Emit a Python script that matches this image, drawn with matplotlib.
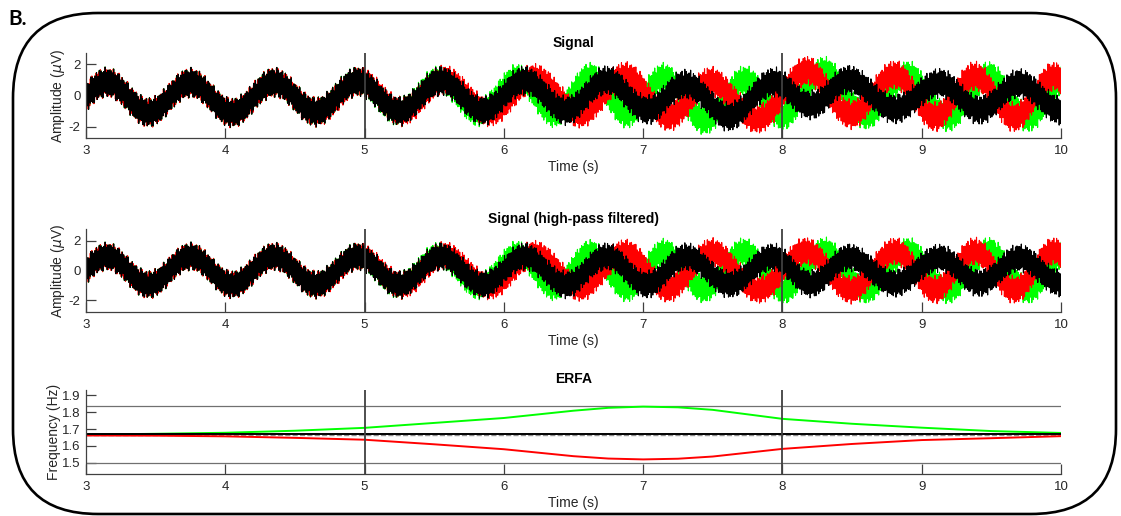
import numpy as np
import matplotlib
matplotlib.use("Agg")
import matplotlib.pyplot as plt
from matplotlib.patches import FancyBboxPatch

plt.rcParams["font.family"] = ["Liberation Sans", "DejaVu Sans"]
plt.rcParams["axes.unicode_minus"] = False

# ── values ────────────────────────────────────────────────────────────────────
# peak times (s) of the slow oscillation in each signal (same in both signal panels)
black_peaks = [2.55, 3.15, 3.75, 4.35, 4.95, 5.55, 6.15, 6.74, 7.31, 7.93, 8.48, 9.13, 9.70, 10.30]
green_peaks = [2.55, 3.15, 3.75, 4.35, 4.95, 5.54, 6.10, 6.62, 7.15, 7.72, 8.30, 8.90, 9.48, 10.05, 10.65]
red_peaks   = [2.55, 3.15, 3.75, 4.35, 4.96, 5.57, 6.22, 6.87, 7.49, 8.17, 8.81, 9.38, 9.95, 10.55]

# slow-wave amplitude (uV) at whole seconds
amp_t     = [3, 4, 5, 6, 7, 8, 9, 10]
black_amp = [0.95, 0.95, 0.95, 0.95, 0.95, 0.9, 0.85, 0.85]
green_amp = [0.95, 0.95, 0.95, 1.05, 1.2, 1.3, 1.3, 1.3]
red_amp   = [0.95, 0.95, 0.95, 1.05, 1.2, 1.3, 1.3, 1.3]

# low-frequency offset that the high-pass filter removes (top panel only)
drift_t   = [3, 4, 5, 6, 6.5, 7, 7.3, 7.6, 7.9, 8.2, 8.5, 9, 10]
drift_val = [-0.1, -0.15, -0.05, 0.0, 0.0, 0.05, -0.2, -0.45, -0.1, 0.3, 0.1, -0.05, -0.1]

# fast ripple riding on each signal: (Hz, uV)
ripple_freq = [97.3, 163.9, 241.7]
ripple_amp  = [0.72, 0.17, 0.10]

# ERFA frequency estimates (Hz)
erfa_t     = [3, 3.5, 4, 4.5, 5, 5.5, 6, 6.5, 6.75, 7, 7.25, 7.5, 8, 8.5, 9, 9.5, 10]
erfa_green = [1.667, 1.672, 1.678, 1.690, 1.707, 1.736, 1.765, 1.808, 1.825, 1.832, 1.828,
              1.813, 1.760, 1.731, 1.708, 1.688, 1.677]
erfa_red   = [1.662, 1.661, 1.657, 1.648, 1.637, 1.610, 1.581, 1.540, 1.526, 1.521, 1.525,
              1.538, 1.583, 1.612, 1.635, 1.646, 1.658]
erfa_black = [1.668] * len(erfa_t)
erfa_bounds = [1.5, 1.8333]
true_freq   = 1.6667

event_times = [5, 8]

fs = 3000
t = np.arange(3, 10 + 1 / fs, 1 / fs)


def make_signal(peaks, amp, shift, drift=False):
    phase = np.interp(t, peaks, np.arange(len(peaks)))
    a = np.interp(t, amp_t, amp)
    y = a * np.cos(2 * np.pi * phase)
    for k, (f, r) in enumerate(zip(ripple_freq, ripple_amp)):
        y += r * np.sin(2 * np.pi * f * t + shift * (k + 1))
    if drift:
        y += np.interp(t, drift_t, drift_val)
    return y


series = [("#00ff00", green_peaks, green_amp, 0.7),
          ("#ff0000", red_peaks, red_amp, 1.9),
          ("#000000", black_peaks, black_amp, 0.0)]

W, H = 1121, 516
fig = plt.figure(figsize=(W / 100, H / 100), dpi=100)

# rounded frame (display pixels, origin bottom-left) and panel letter
r = 85
x0, y0, x1, y1 = 13, 2, 1116, 503
frame = FancyBboxPatch((x0 + r, y0 + r), x1 - x0 - 2 * r, y1 - y0 - 2 * r,
                       boxstyle=f"round,pad={r}", fill=False,
                       edgecolor="black", linewidth=1.9, zorder=0)
frame.set_transform(None)
fig.patches.append(frame)
fig.text(8 / W, 1 - 19 / H, "B.", fontsize=15, fontweight="bold",
         family=["Lato", "DejaVu Sans"], va="center", ha="left")

left, width = 86 / W, (1061 - 86) / W
ax1 = fig.add_axes([left, 1 - 138 / H, width, 85 / H])
ax2 = fig.add_axes([left, 1 - 312 / H, width, 83 / H])
ax3 = fig.add_axes([left, 1 - 474 / H, width, 84 / H])

AX_COL = "#404040"
TXT_COL = "#262626"


def style(ax):
    for s in ["top", "right"]:
        ax.spines[s].set_visible(False)
    for s in ["left", "bottom"]:
        ax.spines[s].set_color(AX_COL)
        ax.spines[s].set_linewidth(0.9)
    ax.tick_params(direction="in", length=7.5, width=0.9, color=AX_COL,
                   labelcolor=TXT_COL, labelsize=9.5)
    ax.tick_params(axis="x", pad=5)
    ax.tick_params(axis="y", pad=4)
    ax.set_xlim(3, 10)
    ax.set_xticks(range(3, 11))
    ax.set_xlabel("Time (s)", fontsize=10, color=TXT_COL, labelpad=2)
    for ev in event_times:
        ax.axvline(ev, color=AX_COL, linewidth=1.3, zorder=5)


for ax, title, drift, ylim in [(ax1, "Signal", True, (-2.7, 2.7)),
                               (ax2, "Signal (high-pass filtered)", False, (-2.8, 2.8))]:
    for col, pk, amp, sh in series:
        ax.plot(t, make_signal(pk, amp, sh, drift), color=col, linewidth=0.8)
    ax.set_ylim(*ylim)
    ax.set_yticks([-2, 0, 2])
    ax.set_ylabel(r"Amplitude ($\mu$V)", fontsize=10, color=TXT_COL, labelpad=1)
    ax.set_title(title, fontsize=10, fontweight="bold", pad=4)
    style(ax)

for b in erfa_bounds:
    ax3.axhline(b, color="#707070", linewidth=0.9)
ax3.axhline(true_freq, color="#909090", linewidth=1.0, linestyle="--")
ax3.plot(erfa_t, erfa_green, color="#00ff00", linewidth=1.4)
ax3.plot(erfa_t, erfa_red, color="#ff0000", linewidth=1.4)
ax3.plot(erfa_t, erfa_black, color="#000000", linewidth=1.4)
ax3.set_ylim(1.435, 1.93)
ax3.set_yticks([1.5, 1.6, 1.7, 1.8, 1.9])
ax3.set_ylabel("Frequency (Hz)", fontsize=10, color=TXT_COL, labelpad=1)
ax3.set_title("ERFA", fontsize=10, fontweight="bold", pad=5)
style(ax3)

fig.savefig("out.png", dpi=100)
